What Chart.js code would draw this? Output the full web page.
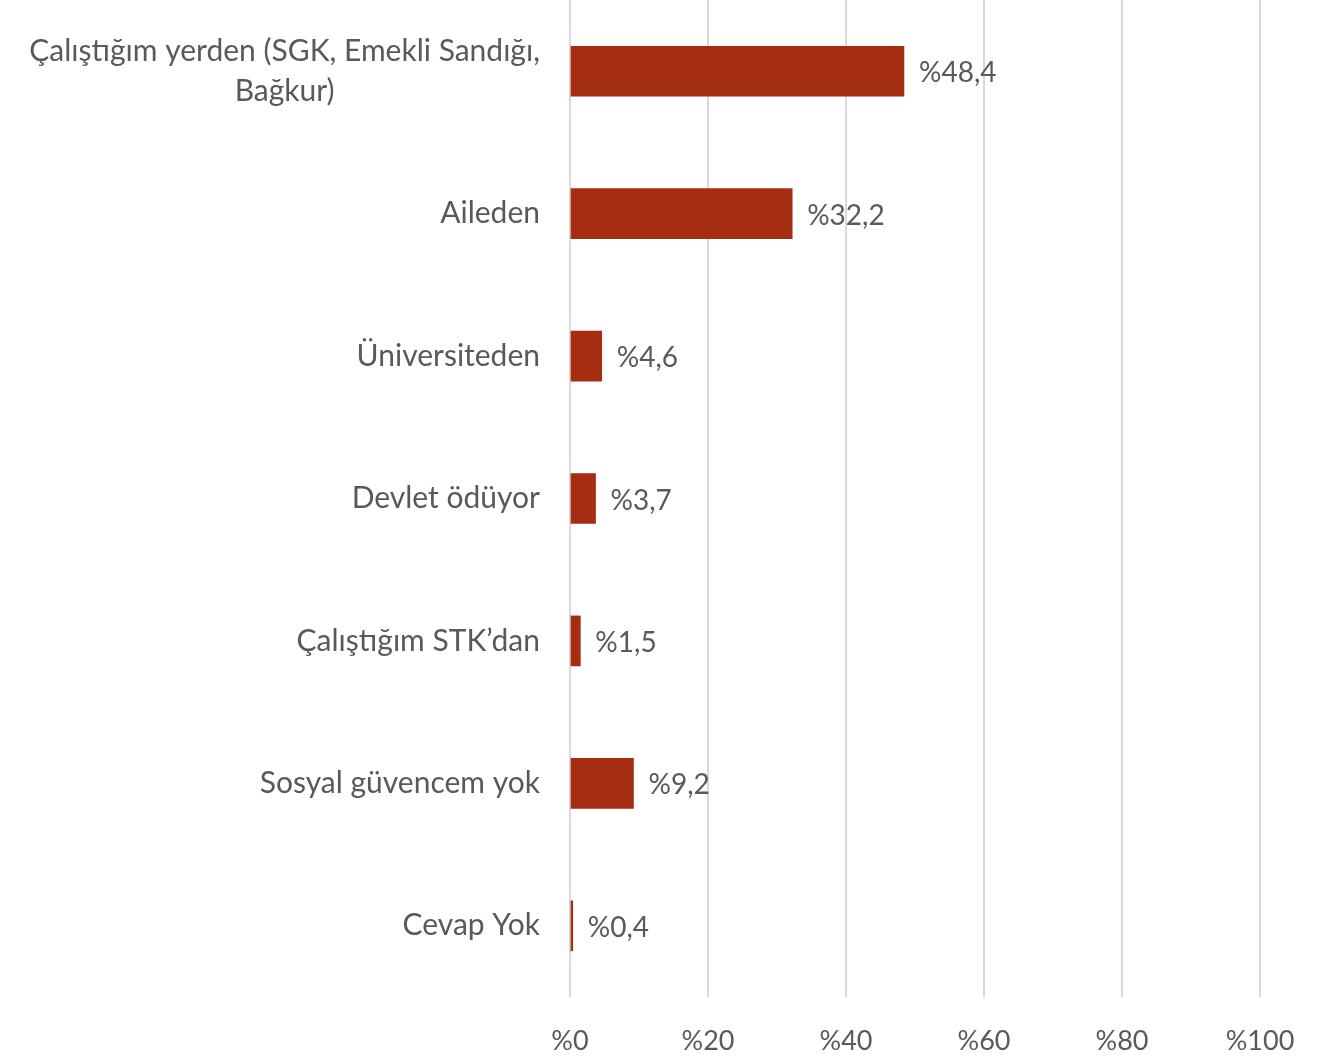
<!DOCTYPE html>
<html>
<head>
<meta charset="utf-8">
<script src="https://cdn.jsdelivr.net/npm/chart.js@4/dist/chart.umd.min.js"></script>
<style>
  html, body { margin: 0; padding: 0; background: #fff; }
  #wrap { width: 1327px; height: 1057px; }
</style>
</head>
<body>
<div id="wrap"><canvas id="grafik"></canvas></div>
<script>
// === Veriler ===
const kategoriler = [
  ['Çalıştığım yerden (SGK, Emekli Sandığı,', 'Bağkur)'],
  'Aileden',
  'Üniversiteden',
  'Devlet ödüyor',
  'Çalıştığım STK’dan',
  'Sosyal güvencem yok',
  'Cevap Yok'
];
const oranlar = [48.4, 32.2, 4.6, 3.7, 1.5, 9.2, 0.4];
const eksenEtiketleri = ['%0', '%20', '%40', '%60', '%80', '%100'];

const yazi = 'Lato, "Open Sans", sans-serif';
const metinRengi = '#595959';

// çubuk sonuna değer yaz + kategori etiketleri (çok satırlı olan ortalı)
const etiketler = {
  id: 'etiketler',
  afterDatasetsDraw(chart) {
    const ctx = chart.ctx;
    const meta = chart.getDatasetMeta(0);
    const yEks = chart.scales.y;
    ctx.save();
    ctx.fillStyle = metinRengi;
    ctx.textBaseline = 'middle';

    ctx.font = '28px ' + yazi;
    ctx.textAlign = 'left';
    meta.data.forEach((bar, i) => {
      ctx.fillText('%' + oranlar[i].toFixed(1).replace('.', ','), bar.x + 15, bar.y + 2);
    });

    ctx.font = '30px ' + yazi;
    const sag = yEks.right - 30;
    kategoriler.forEach((k, i) => {
      const yc = yEks.getPixelForValue(i);
      const satirlar = Array.isArray(k) ? k : [k];
      const genislik = Math.max(...satirlar.map(s => ctx.measureText(s).width));
      const ortaX = sag - genislik / 2;
      const satirYuk = 40;
      satirlar.forEach((s, j) => {
        const y = yc + (j - (satirlar.length - 1) / 2) * satirYuk;
        if (satirlar.length > 1) {
          ctx.textAlign = 'center';
          ctx.fillText(s, ortaX, y);
        } else {
          ctx.textAlign = 'right';
          ctx.fillText(s, sag, y);
        }
      });
    });
    ctx.restore();
  }
};

new Chart(document.getElementById('grafik'), {
  type: 'bar',
  data: {
    labels: kategoriler,
    datasets: [{
      data: oranlar,
      backgroundColor: '#a52e12',
      barThickness: 50
    }]
  },
  options: {
    indexAxis: 'y',
    responsive: true,
    maintainAspectRatio: false,
    animation: false,
    layout: { padding: { top: 0, right: 67, bottom: 0, left: 0 } },
    plugins: {
      legend: { display: false },
      tooltip: { enabled: false }
    },
    scales: {
      x: {
        min: 0,
        max: 100,
        ticks: {
          stepSize: 20,
          padding: 28,
          color: metinRengi,
          font: { family: yazi, size: 27 },
          callback: (v, i) => eksenEtiketleri[i]
        },
        grid: { color: '#d9d9d9', lineWidth: 2, drawTicks: false },
        border: { display: false },
        afterFit: s => { s.height = 60; s.paddingLeft = 0; s.paddingRight = 0; }
      },
      y: {
        ticks: { display: false },
        grid: { display: false },
        border: { display: false },
        afterFit: s => { s.width = 570; s.paddingTop = 0; s.paddingBottom = 0; }
      }
    }
  },
  plugins: [etiketler]
});
</script>
</body>
</html>
